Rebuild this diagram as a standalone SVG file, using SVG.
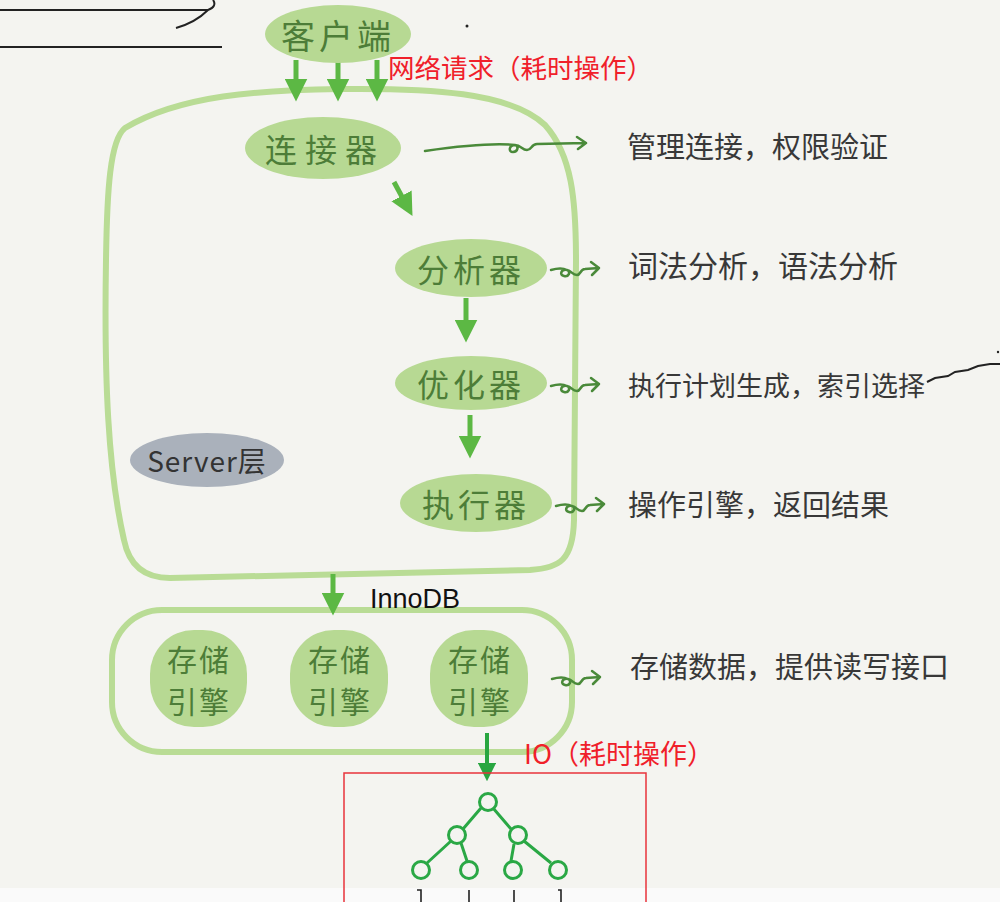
<svg xmlns="http://www.w3.org/2000/svg" width="1000" height="902" viewBox="0 0 1000 902">
<defs>
<style>
.node{fill:#b7d993}
.nt{font-family:"Noto Sans CJK SC","Noto Sans",sans-serif;fill:#4d7d38;font-size:32px;text-anchor:middle;dominant-baseline:central;letter-spacing:4px}
.desc{font-family:"Noto Sans CJK SC","Noto Sans",sans-serif;fill:#383838;font-size:29px;dominant-baseline:central}
.red{font-family:"Noto Sans CJK SC","Liberation Sans",sans-serif;fill:#f0202a;font-size:26.5px}
.box{fill:none;stroke:#b9dc95;stroke-width:6;stroke-linejoin:round}
.arr{stroke:#5cb844;stroke-width:5;fill:none}
.sq{stroke:#4a8a3a;stroke-width:2.5;fill:none;stroke-linecap:round;stroke-linejoin:round}
.tree{stroke:#2aa845;stroke-width:3;fill:none}
.ink{stroke:#222;stroke-width:2;fill:none}
</style>
<marker id="ah" viewBox="0 0 10 10" refX="5" refY="5" markerWidth="4.6" markerHeight="4.6" orient="auto" markerUnits="strokeWidth">
<path d="M0,0 L10,5 L0,10 Z" fill="#5cb844"/>
</marker>
<marker id="ah2" viewBox="0 0 10 10" refX="5" refY="5" markerWidth="4.6" markerHeight="4.6" orient="auto" markerUnits="strokeWidth">
<path d="M0,0 L10,5 L0,10 Z" fill="#28a640"/>
</marker>
<path id="squig" d="M0,0 C7,-2 12,-2 16,0 c4,2 2,7 -3,6 c-5,-1 -3,-7 3,-6 c5,1 5,5 10,5 c4,0 3,-6 8,-6 L48,-2 M40,-8 L48,-2 L41,5"/>
</defs>
<rect x="0" y="0" width="1000" height="902" fill="#f4f4f0"/>
<rect x="0" y="888" width="1000" height="14" fill="#fafafa"/>

<g id="marks">
<path class="ink" d="M0,10 L208,10 C214,8 216,4 213,0 M208,10 C200,18 190,24 176,28"/>
<path class="ink" d="M0,47 L222,47"/>
<circle cx="467" cy="26" r="1.5" fill="#222"/>
<path class="ink" d="M927,382 L935,378 L948,376 L955,372 L968,370 L978,366 L990,364 L1000,364" stroke-width="1.6"/>
<circle cx="998" cy="352" r="1.2" fill="#222"/>
</g>

<g id="server-layer">
<path class="box" d="M125,128 C180,95 260,90 340,89 C430,88 510,92 545,125 C572,155 576,200 576,260 L574,520 C573,560 560,568 530,570 L170,578 C140,578 128,560 124,540 C108,470 104,380 106,260 C107,190 110,140 125,128 Z"/>
<ellipse cx="207" cy="460" rx="77" ry="27" fill="#aab1bb"/>
<text x="207" y="460" class="nt" style="fill:#333;font-size:28px;letter-spacing:1px">Server层</text>
</g>
<g id="storage-layer">
<rect class="box" x="112" y="610" width="460" height="142" rx="50"/>
</g>

<g id="connectors">
<line class="arr" x1="296" y1="60" x2="296" y2="90" marker-end="url(#ah)"/>
<line class="arr" x1="338" y1="60" x2="338" y2="90" marker-end="url(#ah)"/>
<line class="arr" x1="377" y1="60" x2="377" y2="90" marker-end="url(#ah)"/>
<line class="arr" x1="394" y1="182" x2="407" y2="206" marker-end="url(#ah)"/>
<line class="arr" x1="466" y1="298" x2="466" y2="331" marker-end="url(#ah)"/>
<line class="arr" x1="470" y1="415" x2="470" y2="447" marker-end="url(#ah)"/>
<line class="arr" x1="333" y1="574" x2="333" y2="604" marker-end="url(#ah)"/>
<line x1="487" y1="733" x2="487" y2="772" stroke="#28a640" stroke-width="4" marker-end="url(#ah2)"/>
<path class="sq" d="M425,151 C460,146 495,143 515,145 c4,1 3,7 -2,7 c-5,0 -4,-7 2,-7 c6,0 7,5 12,5 c5,0 4,-6 10,-6 L586,143 M577,137 L586,143 L578,149"/>
<use href="#squig" class="sq" transform="translate(551,270)"/>
<use href="#squig" class="sq" transform="translate(551,386)"/>
<use href="#squig" class="sq" transform="translate(556,506)"/>
<use href="#squig" class="sq" transform="translate(552,679)"/>
</g>

<g id="client">
<ellipse class="node" cx="338" cy="34" rx="73" ry="29"/>
<text x="338" y="34" class="nt" style="font-size:34px">客户端</text>
</g>
<text x="388" y="78" class="red">网络请求（耗时操作）</text>

<g id="connector">
<ellipse class="node" cx="323" cy="148" rx="78" ry="31"/>
<text x="325" y="148" class="nt" style="letter-spacing:8px">连接器</text>
</g>
<g id="analyzer">
<ellipse class="node" cx="471" cy="268" rx="76" ry="29"/>
<text x="471" y="268" class="nt">分析器</text>
</g>
<g id="optimizer">
<ellipse class="node" cx="471" cy="383" rx="76" ry="27"/>
<text x="471" y="383" class="nt">优化器</text>
</g>
<g id="executor">
<ellipse class="node" cx="476" cy="503" rx="76" ry="29"/>
<text x="476" y="503" class="nt">执行器</text>
</g>
<text x="370" y="608" font-family="Liberation Sans,Arial,sans-serif" font-size="27" fill="#111">InnoDB</text>

<g id="engine1">
<rect class="node" x="150" y="630" width="97" height="97" rx="44"/>
<text x="199" y="658" class="nt" style="font-size:30px;letter-spacing:2px">存储</text>
<text x="199" y="700" class="nt" style="font-size:30px;letter-spacing:2px">引擎</text>
</g>
<g id="engine2">
<rect class="node" x="290" y="630" width="98" height="97" rx="44"/>
<text x="340" y="658" class="nt" style="font-size:30px;letter-spacing:2px">存储</text>
<text x="340" y="700" class="nt" style="font-size:30px;letter-spacing:2px">引擎</text>
</g>
<g id="engine3">
<rect class="node" x="430" y="630" width="98" height="97" rx="44"/>
<text x="480" y="658" class="nt" style="font-size:30px;letter-spacing:2px">存储</text>
<text x="480" y="700" class="nt" style="font-size:30px;letter-spacing:2px">引擎</text>
</g>

<g id="descriptions">
<text x="627" y="145" class="desc">管理连接，权限验证</text>
<text x="628" y="264" class="desc" style="font-size:30px">词法分析，语法分析</text>
<text x="628" y="384" class="desc" style="font-size:27px">执行计划生成，索引选择</text>
<text x="628" y="503" class="desc">操作引擎，返回结果</text>
<text x="630" y="665" class="desc">存储数据，提供读写接口</text>
</g>
<text x="524" y="764" class="red" style="font-size:27px">IO（耗时操作）</text>

<g id="btree">
<rect x="344" y="773" width="302" height="140" fill="none" stroke="#e8333b" stroke-width="1.5"/>
<path class="tree" d="M481,808 L463,829 M493,808 L511,829 M451,841 L427,863 M461,843 L467,861 M514,844 L511,861 M524,841 L551,863"/>
<circle class="tree" cx="488" cy="802" r="8.5"/>
<circle class="tree" cx="457" cy="835" r="8.5"/>
<circle class="tree" cx="518" cy="835" r="8.5"/>
<circle class="tree" cx="421" cy="870" r="8.5"/>
<circle class="tree" cx="469" cy="870" r="8.5"/>
<circle class="tree" cx="513" cy="870" r="8.5"/>
<circle class="tree" cx="558" cy="870" r="8.5"/>
<path d="M417,890 L421,890 L421,902 M469,890 L469,902 M514,890 L514,902 M558,890 L561,890 L561,902" stroke="#222" stroke-width="1.6" fill="none"/>
</g>
</svg>
